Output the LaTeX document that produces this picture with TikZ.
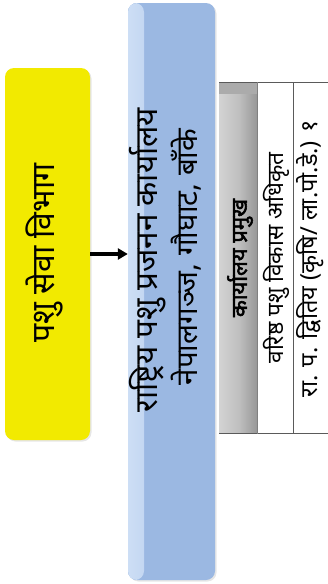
\documentclass[tikz,border=0pt]{standalone}
\usepackage{fontspec}
\setmainfont{Noto Sans}
\newfontfamily\deva[Script=Devanagari]{Noto Sans}
\newfontfamily\devab[Script=Devanagari,FakeBold=2.5]{Noto Sans}
\usetikzlibrary{arrows.meta,shadows}
\definecolor{yelfill}{RGB}{242,234,0}
\definecolor{blufill}{RGB}{155,184,226}
\definecolor{blulight}{RGB}{205,222,245}
\definecolor{hdrgray}{RGB}{192,192,192}
\definecolor{hdrdark}{RGB}{150,150,150}
\definecolor{linegray}{RGB}{90,90,90}
\tikzset{
  box/.style={rectangle, rounded corners=9pt, inner sep=0pt, draw=none},
  vtext/.style={rotate=90, inner sep=0pt, text=black},
  cell/.style={rectangle, inner sep=0pt, draw=none},
  conn/.style={-{Triangle[length=10pt,width=11pt]}, line width=3.6pt, black}
}
\begin{document}
\begin{tikzpicture}[x=1pt,y=-1pt]
\useasboundingbox (0,0) rectangle (328,584);
\clip (0,0) rectangle (328,584);
% yellow box
\node[box, minimum width=85pt, minimum height=372pt, fill=yelfill,
      drop shadow={opacity=0.2, shadow xshift=1.5pt, shadow yshift=-1.5pt}] (yel) at (47.5,254) {};
\node[vtext, font=\deva\fontsize{32}{36}\selectfont] (yeltxt) at (44,253) {पशु सेवा विभाग};
% blue box
\node[box, minimum width=87pt, minimum height=577pt, fill=blufill,
      drop shadow={opacity=0.2, shadow xshift=1.5pt, shadow yshift=-1.5pt},
      path picture={\fill[left color=blulight, right color=blufill]
        (path picture bounding box.north west) rectangle ([xshift=16pt]path picture bounding box.south west);}] (blu) at (171.5,291.5) {};
\node[vtext, font=\deva\fontsize{31.5}{36}\selectfont] (blu1) at (148,260) {राष्ट्रिय पशु प्रजनन कार्यालय};
\node[vtext, font=\deva\fontsize{29.5}{34}\selectfont] (blu2) at (186,257) {नेपालगञ्ज, गौघाट, बाँके};
% arrow
\draw[conn] (yel.east) -- (yel.east -| blu.west);
% table
\node[cell, minimum width=38pt, minimum height=351pt, left color=hdrgray!70, right color=hdrdark, middle color=hdrgray] (hdr) at (238.5,258) {};
\fill[hdrdark!80] (hdr.north west) rectangle ([yshift=-12pt]hdr.north east);
\node[cell, minimum width=35pt, minimum height=351pt, fill=white] (c2) at (275.5,258) {};
\node[cell, minimum width=40pt, minimum height=351pt, fill=white] (c3) at (313,258) {};
\draw[linegray, line width=1pt] (hdr.north west) -- (c3.north east);
\draw[linegray, line width=1pt] (hdr.south west) -- (c3.south east);
\draw[gray, line width=1pt] (hdr.north east) -- (hdr.south east);
\draw[linegray, line width=1.2pt] (c2.north east) -- (c2.south east);
\node[vtext, font=\devab\fontsize{22}{26}\selectfont] (hdrtxt) at (240,258) {कार्यालय प्रमुख};
\node[vtext, font=\deva\fontsize{22.6}{26}\selectfont] (c2txt) at (276,258) {वरिष्ठ पशु विकास अधिकृत};
\node[vtext, font=\deva\fontsize{23.5}{27}\selectfont] (c3txt) at (310,259) {रा. प. द्वितिय (कृषि/ ला.पो.डे.) १};
\end{tikzpicture}
\end{document}
